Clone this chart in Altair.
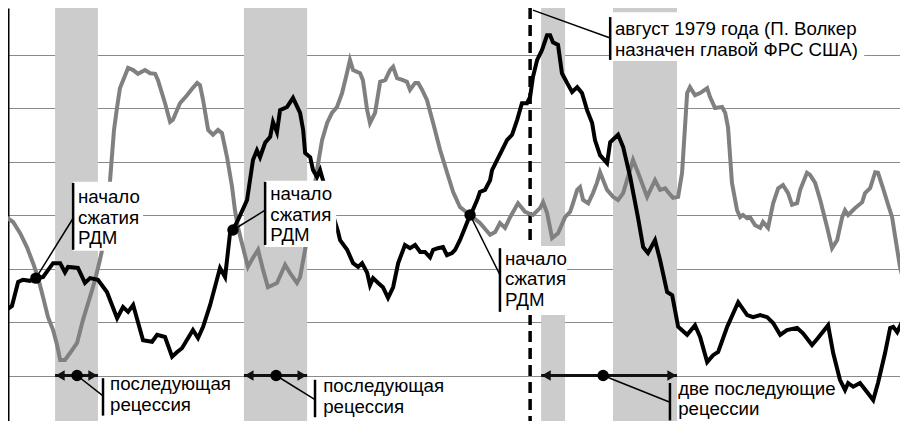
import altair as alt
import pandas as pd

# ---- series (years, value in grid units) ----
black_year = [
    1961.00, 1961.21, 1961.43, 1961.60, 1961.85, 1962.06, 1962.31, 1962.49, 1962.67, 1962.92,
    1963.09, 1963.20, 1963.55, 1963.80, 1963.98, 1964.26, 1964.58, 1964.94, 1965.15, 1965.33,
    1965.51, 1965.86, 1966.18, 1966.36, 1966.64, 1966.89, 1967.07, 1967.24, 1967.63, 1967.81,
    1967.99, 1968.24, 1968.59, 1968.77, 1968.95, 1969.05, 1969.23, 1969.55, 1969.76, 1969.90,
    1970.01, 1970.19, 1970.37, 1970.47, 1970.61, 1970.72, 1970.97, 1971.18, 1971.43, 1971.54,
    1971.61, 1971.79, 1971.89, 1972.03, 1972.14, 1972.21, 1972.49, 1972.78, 1972.85, 1973.10,
    1973.31, 1973.49, 1973.63, 1973.81, 1973.91, 1974.02, 1974.20, 1974.37, 1974.55, 1974.73,
    1974.91, 1975.15, 1975.33, 1975.51, 1975.69, 1975.86, 1976.04, 1976.15, 1976.32, 1976.50,
    1976.64, 1976.82, 1976.93, 1977.10, 1977.28, 1977.46, 1977.53, 1977.71, 1977.81, 1977.99,
    1978.17, 1978.24, 1978.42, 1978.59, 1978.77, 1978.95, 1979.13, 1979.30, 1979.48, 1979.59,
    1979.69, 1979.84, 1980.01, 1980.19, 1980.30, 1980.40, 1980.58, 1980.72, 1980.90, 1981.08,
    1981.26, 1981.43, 1981.61, 1981.79, 1981.89, 1982.07, 1982.32, 1982.43, 1982.71, 1982.89,
    1983.14, 1983.42, 1983.60, 1983.77, 1984.02, 1984.20, 1984.45, 1984.63, 1984.84, 1985.16,
    1985.44, 1985.62, 1985.87, 1986.08, 1986.26, 1986.58, 1986.97, 1987.29, 1987.50, 1987.75,
    1988.00, 1988.21, 1988.46, 1988.70, 1989.06, 1989.27, 1989.59, 1989.80, 1990.16, 1990.34,
    1990.58, 1990.76, 1990.87, 1991.05, 1991.29, 1991.54, 1991.76, 1991.93, 1992.18, 1992.36,
    1992.47, 1992.61, 1992.78, 1992.96,
]
black_value = [
    2.22, 2.30, 2.75, 2.79, 2.77, 2.82, 2.84, 2.97, 3.10, 3.10,
    2.93, 3.03, 3.01, 2.73, 2.82, 2.79, 2.56, 2.07, 2.28, 2.19,
    2.32, 1.66, 1.63, 1.76, 1.72, 1.35, 1.44, 1.51, 1.85, 1.70,
    1.91, 2.32, 3.01, 2.84, 3.68, 3.72, 3.91, 4.28, 5.03, 5.21,
    5.08, 5.35, 5.46, 5.74, 5.55, 5.96, 6.02, 6.19, 5.91, 5.59,
    5.16, 5.08, 4.84, 4.71, 4.84, 4.71, 4.19, 3.68, 3.53, 3.35,
    3.10, 3.03, 3.10, 2.92, 2.69, 2.82, 2.73, 2.65, 2.45, 2.65,
    3.10, 3.44, 3.38, 3.44, 3.31, 3.31, 3.21, 3.35, 3.38, 3.40,
    3.25, 3.29, 3.35, 3.53, 3.76, 4.00, 4.06, 4.28, 4.43, 4.47,
    4.65, 4.84, 5.03, 5.21, 5.40, 5.50, 5.78, 6.09, 6.09, 6.21,
    6.58, 6.90, 7.08, 7.36, 7.36, 7.23, 7.18, 6.65, 6.47, 6.30,
    6.39, 6.28, 5.96, 5.72, 5.40, 5.12, 4.97, 5.36, 5.50, 5.27,
    4.71, 3.94, 3.40, 3.29, 3.53, 3.16, 2.56, 2.50, 1.91, 1.76,
    1.94, 1.72, 1.25, 1.38, 1.44, 1.91, 2.37, 2.13, 2.09, 2.13,
    2.09, 1.98, 1.76, 1.85, 1.89, 1.79, 1.57, 1.70, 1.94, 1.42,
    0.92, 0.73, 0.86, 0.79, 0.86, 0.69, 0.54, 0.86, 1.42, 1.89,
    1.91, 1.81, 2.00, 2.17,
]
gray_year = [
    1961.00, 1961.25, 1961.50, 1961.74, 1961.96, 1962.14, 1962.31, 1962.49, 1962.67, 1962.81,
    1962.92, 1963.09, 1963.27, 1963.52, 1963.73, 1963.98, 1964.16, 1964.33, 1964.41, 1964.55,
    1964.69, 1964.83, 1964.94, 1965.04, 1965.33, 1965.51, 1965.68, 1965.93, 1966.11, 1966.29,
    1966.39, 1966.64, 1966.82, 1966.92, 1967.17, 1967.42, 1967.60, 1967.78, 1967.88, 1967.99,
    1968.17, 1968.34, 1968.52, 1968.66, 1968.84, 1969.02, 1969.12, 1969.23, 1969.34, 1969.58,
    1969.76, 1969.94, 1970.12, 1970.29, 1970.61, 1970.90, 1971.07, 1971.32, 1971.43, 1971.64,
    1971.86, 1972.03, 1972.21, 1972.39, 1972.56, 1972.74, 1972.92, 1973.10, 1973.20, 1973.31,
    1973.56, 1973.66, 1973.81, 1973.91, 1974.09, 1974.27, 1974.45, 1974.62, 1974.73, 1974.87,
    1975.08, 1975.22, 1975.33, 1975.51, 1975.62, 1975.76, 1975.93, 1976.15, 1976.40, 1976.64,
    1976.86, 1977.10, 1977.46, 1977.81, 1978.17, 1978.35, 1978.52, 1978.70, 1978.88, 1979.16,
    1979.41, 1979.69, 1979.94, 1980.05, 1980.19, 1980.37, 1980.58, 1980.83, 1981.01, 1981.11,
    1981.26, 1981.36, 1981.47, 1981.65, 1981.82, 1981.96, 1982.07, 1982.32, 1982.53, 1982.71,
    1982.89, 1983.24, 1983.42, 1983.74, 1984.02, 1984.20, 1984.38, 1984.48, 1984.66, 1984.84,
    1984.98, 1985.16, 1985.26, 1985.44, 1985.62, 1985.87, 1985.97, 1986.15, 1986.40, 1986.51,
    1986.61, 1986.75, 1986.93, 1987.04, 1987.14, 1987.29, 1987.39, 1987.57, 1987.75, 1987.85,
    1988.03, 1988.21, 1988.39, 1988.56, 1988.74, 1988.88, 1989.06, 1989.17, 1989.41, 1989.52,
    1989.70, 1989.88, 1990.12, 1990.30, 1990.48, 1990.66, 1990.76, 1990.87, 1991.12, 1991.37,
    1991.47, 1991.65, 1991.83, 1991.93, 1992.11, 1992.29, 1992.43, 1992.54, 1992.71, 1992.85,
    1992.96,
]
gray_value = [
    3.96, 3.87, 3.66, 3.40, 3.10, 2.82, 2.47, 2.09, 1.85, 1.57,
    1.29, 1.29, 1.42, 1.61, 2.04, 2.47, 2.79, 3.16, 3.35, 4.00,
    4.65, 5.59, 6.02, 6.37, 6.75, 6.71, 6.64, 6.71, 6.65, 6.64,
    6.52, 6.09, 5.74, 5.78, 6.09, 6.24, 6.36, 6.47, 6.43, 6.15,
    5.59, 5.50, 5.59, 5.53, 5.08, 4.52, 4.09, 3.76, 3.53, 3.03,
    3.20, 3.35, 2.97, 2.65, 2.73, 3.07, 2.92, 2.73, 2.84, 3.44,
    4.19, 4.84, 5.40, 5.72, 5.91, 6.02, 6.28, 6.67, 6.90, 6.71,
    6.65, 6.52, 5.96, 5.72, 5.91, 6.49, 6.52, 6.71, 6.77, 6.56,
    6.52, 6.49, 6.34, 6.47, 6.47, 6.34, 6.15, 5.72, 5.21, 4.80,
    4.43, 4.15, 4.00, 3.85, 3.63, 3.68, 3.85, 3.76, 3.96, 4.22,
    4.06, 4.00, 4.13, 4.24, 4.04, 3.57, 3.66, 3.96, 4.06, 4.22,
    4.47, 4.52, 4.28, 4.22, 4.41, 4.60, 4.80, 4.47, 4.34, 4.28,
    4.41, 5.03, 4.79, 4.34, 4.65, 4.47, 4.50, 4.43, 4.32, 4.34,
    4.79, 6.28, 6.39, 6.24, 6.28, 6.37, 6.21, 6.00, 6.02, 5.91,
    5.64, 4.60, 4.09, 3.96, 4.00, 3.94, 3.96, 3.81, 3.76, 3.87,
    3.76, 4.22, 4.50, 4.56, 4.41, 4.19, 4.22, 4.47, 4.79, 4.75,
    4.60, 4.28, 3.78, 3.38, 3.53, 3.96, 4.09, 4.00, 4.13, 4.24,
    4.41, 4.50, 4.80, 4.79, 4.50, 4.19, 3.96, 3.59, 3.03, 2.73,
    2.65,
]

# ---- recessions and events ----
recession_start = [1962.74, 1969.44, 1979.98, 1982.53]
recession_end = [1964.26, 1971.68, 1980.83, 1984.80]
volcker_date = [1979.59]

# crossing points "начало сжатия РДМ"
cross_year = [1962.06, 1969.05, 1977.46]
cross_value = [2.82, 3.72, 4.00]

# arrows showing the following recessions
arrow_start = [1962.74, 1969.44, 1979.98]
arrow_end = [1964.26, 1971.68, 1984.80]
arrow_dot = [1963.52, 1970.58, 1982.18]
arrow_level = [1.0, 1.0, 1.0]

# ---- annotation labels ----
label_text = [
    "начало\nсжатия\nРДМ",
    "начало\nсжатия\nРДМ",
    "начало\nсжатия\nРДМ",
    "август 1979 года (П. Волкер\nназначен главой ФРС США)",
    "последующая\nрецессия",
    "последующая\nрецессия",
    "две последующие\nрецессии",
]
label_bar_x = [1963.38, 1970.19, 1978.52, 1982.43, 1964.44, 1971.96, 1984.55]
label_bar_top = [4.60, 4.62, 3.38, 7.70, 0.95, 0.92, 0.86]
label_bar_bottom = [3.35, 3.44, 2.19, 6.90, 0.25, 0.22, 0.16]
label_text_x = [1963.55, 1970.37, 1978.70, 1982.60, 1964.69, 1972.25, 1984.84]
label_text_y = [4.22, 4.28, 3.07, 7.36, 0.72, 0.69, 0.64]

# white boxes behind the upper labels
box_x = [1963.38, 1970.19, 1978.52, 1982.43]
box_x2 = [1965.86, 1972.71, 1980.90, 1991.44]
box_top = [4.62, 4.64, 3.42, 7.79]
box_bottom = [3.33, 3.40, 2.13, 6.88]

# leader lines: from point to label bar
leader_x = [1962.06, 1969.05, 1977.46, 1963.52, 1970.58, 1982.18, 1979.69]
leader_y = [2.82, 3.72, 4.00, 1.0, 1.0, 1.0, 7.83]
leader_x2 = [1963.38, 1970.19, 1978.52, 1964.44, 1971.96, 1984.55, 1982.43]
leader_y2 = [3.94, 4.09, 2.88, 0.62, 0.55, 0.50, 7.31]

# ---- build ----
FONT = "Liberation Sans, Arial, sans-serif"
XS = alt.Scale(domain=[1961.07, 1992.71], nice=False, zero=False)
YS = alt.Scale(domain=[0, 7.87], nice=False, zero=False)


def X(f):
    return alt.X(f, type="quantitative", scale=XS, title=None)


def Y(f):
    return alt.Y(f, type="quantitative", scale=YS, title=None)


black_df = pd.DataFrame({"year": black_year, "value": black_value})
gray_df = pd.DataFrame({"year": gray_year, "value": gray_value})
rec_df = pd.DataFrame({"start": recession_start, "end": recession_end})
volcker_df = pd.DataFrame({"year": volcker_date})
cross_df = pd.DataFrame({"year": cross_year, "value": cross_value})
arrow_df = pd.DataFrame({"start": arrow_start, "end": arrow_end, "dot": arrow_dot, "level": arrow_level})
label_df = pd.DataFrame({
    "text": label_text, "bx": label_bar_x, "btop": label_bar_top, "bbot": label_bar_bottom,
    "tx": label_text_x, "ty": label_text_y,
})
box_df = pd.DataFrame({"x": box_x, "x2": box_x2, "top": box_top, "bottom": box_bottom})
leader_df = pd.DataFrame({"x": leader_x, "y": leader_y, "x2": leader_x2, "y2": leader_y2})

# invisible layer that carries the axes and grid
axes_layer = alt.Chart(gray_df).mark_line(opacity=0).encode(
    x=alt.X("year:Q", scale=XS, title=None,
            axis=alt.Axis(values=list(range(1962, 1994)), labels=False, ticks=True, tickSize=7,
                          tickColor="black", tickWidth=1.5, domain=True, domainColor="black",
                          domainWidth=2, grid=False, title=None, zindex=1)),
    y=alt.Y("value:Q", scale=YS, title=None,
            axis=alt.Axis(values=[1, 2, 3, 4, 5, 6, 7], labels=False, ticks=False, domain=True,
                          domainColor="black", domainWidth=2, grid=True, gridColor="#8a8a8a",
                          gridWidth=1, title=None, zindex=0)),
)

bands = alt.Chart(rec_df).mark_rect(color="#cccccc").encode(x=X("start"), x2="end")

volcker = alt.Chart(volcker_df).mark_rule(color="black", strokeWidth=3.5, strokeDash=[11, 6]).encode(
    x=X("year")
)

gray_line = alt.Chart(gray_df).mark_line(color="#808080", strokeWidth=4).encode(
    x=X("year"), y=Y("value")
)

black_line = alt.Chart(black_df).mark_line(color="black", strokeWidth=4).encode(
    x=X("year"), y=Y("value")
)

boxes = alt.Chart(box_df).mark_rect(color="white").encode(
    x=X("x"), x2="x2", y=Y("top"), y2="bottom"
)

bars = alt.Chart(label_df).mark_rule(color="black", strokeWidth=2.5).encode(
    x=X("bx"), y=Y("btop"), y2="bbot"
)

texts = alt.Chart(label_df).mark_text(
    align="left", baseline="alphabetic", fontSize=18.7, font=FONT, lineBreak="\n",
    lineHeight=20.5, color="black"
).encode(x=X("tx"), y=Y("ty"), text="text:N")

leaders = alt.Chart(leader_df).mark_rule(color="black", strokeWidth=1.5).encode(
    x=X("x"), y=Y("y"), x2="x2", y2="y2"
)

arrow_lines = alt.Chart(arrow_df).mark_rule(color="#111111", strokeWidth=3).encode(
    x=X("start"), x2="end", y=Y("level")
)
arrow_left = alt.Chart(arrow_df).transform_calculate(hx="datum.start + 0.18").mark_point(
    shape="triangle-left", filled=True, size=110, color="#111111", opacity=1
).encode(x=X("hx"), y=Y("level"))
arrow_right = alt.Chart(arrow_df).transform_calculate(hx="datum.end - 0.18").mark_point(
    shape="triangle-right", filled=True, size=110, color="#111111", opacity=1
).encode(x=X("hx"), y=Y("level"))
arrow_dots = alt.Chart(arrow_df).mark_circle(size=130, color="black", opacity=1).encode(
    x=X("dot"), y=Y("level")
)

cross_dots = alt.Chart(cross_df).mark_circle(size=130, color="black", opacity=1).encode(
    x=X("year"), y=Y("value")
)

chart = alt.layer(
    axes_layer, bands, volcker, gray_line, black_line, boxes, bars, texts, leaders,
    arrow_lines, arrow_left, arrow_right, arrow_dots, cross_dots,
).properties(
    width=892, height=421,
    autosize=alt.AutoSizeParams(type="none"),
    padding={"left": 0, "top": 0, "right": 0, "bottom": -8},
    background="white",
).configure_view(stroke=None)

chart.save("out.html", embed_options={"renderer": "svg", "actions": False})
